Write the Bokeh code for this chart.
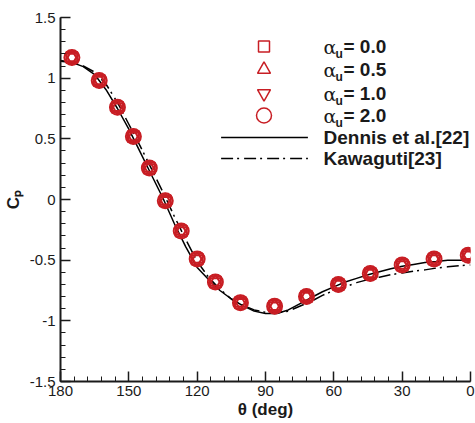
import math
from bokeh.plotting import figure
from bokeh.models import Range1d, Label, SingleIntervalTicker
from bokeh.embed import file_html
from bokeh.resources import INLINE

# ---------------- data ----------------
theta_pts = [175, 163, 155, 148, 141, 134, 127, 120, 112, 101, 86, 72, 58, 44, 30, 16, 1]
cp_a00 = [1.17, 0.98, 0.76, 0.52, 0.26, -0.01, -0.26, -0.49, -0.68, -0.85, -0.88, -0.80, -0.70, -0.61, -0.54, -0.49, -0.46]
cp_a05 = [1.17, 0.98, 0.76, 0.52, 0.26, -0.01, -0.26, -0.49, -0.68, -0.85, -0.88, -0.80, -0.70, -0.61, -0.54, -0.49, -0.46]
cp_a10 = [1.17, 0.98, 0.76, 0.52, 0.26, -0.01, -0.26, -0.49, -0.68, -0.85, -0.88, -0.80, -0.70, -0.61, -0.54, -0.49, -0.46]
cp_a20 = [1.17, 0.98, 0.76, 0.52, 0.26, -0.01, -0.26, -0.49, -0.68, -0.85, -0.88, -0.80, -0.70, -0.61, -0.54, -0.49, -0.46]

theta_line = [180, 175, 170, 165, 160, 155, 150, 145, 140, 135, 130, 125, 120, 115, 110, 105,
              100, 95, 90, 85, 80, 75, 70, 65, 60, 55, 50, 45, 40, 35, 30, 25, 20, 15, 10, 5, 0]
cp_dennis = [1.145, 1.13, 1.095, 1.03, 0.905, 0.75, 0.58, 0.39, 0.20, 0.01, -0.20, -0.39, -0.56, -0.66,
             -0.75, -0.82, -0.875, -0.92, -0.94, -0.94, -0.91, -0.86, -0.81, -0.76, -0.72, -0.68,
             -0.65, -0.62, -0.595, -0.57, -0.55, -0.535, -0.52, -0.51, -0.50, -0.50, -0.50]
cp_kawaguti = [1.14, 1.13, 1.10, 1.05, 0.95, 0.80, 0.62, 0.44, 0.25, 0.06, -0.14, -0.33, -0.51, -0.64,
               -0.74, -0.82, -0.87, -0.91, -0.93, -0.935, -0.92, -0.88, -0.84, -0.79, -0.75, -0.72,
               -0.685, -0.66, -0.64, -0.62, -0.605, -0.59, -0.58, -0.565, -0.555, -0.545, -0.54]

legend_alpha = ["0.0", "0.5", "1.0", "2.0"]
legend_lines = ["Dennis et al.[22]", "Kawaguti[23]"]
x_ticks = [180, 150, 120, 90, 60, 30, 0]
y_ticks = [-1.5, -1, -0.5, 0, 0.5, 1, 1.5]
x_title = "θ (deg)"
y_title = "Cₚ"

# ---------------- layout ----------------
W, H = 475, 423
L, R, T, B = 59, 5, 17, 42
FW, FH = W - L - R, H - T - B
RED = "#c81e24"
INK = "#1a1a1a"
SANS = "Liberation Sans"
SERIF = "DejaVu Serif"
DASHDOT = "12 4 2 5"

p = figure(width=W, height=H, output_backend="svg", toolbar_location=None,
           x_range=Range1d(180, 0), y_range=Range1d(-1.5, 1.5),
           min_border_left=L, min_border_right=R, min_border_top=T, min_border_bottom=B)
p.outline_line_color = None
p.xgrid.visible = False
p.ygrid.visible = False
p.background_fill_color = "white"
p.border_fill_color = "white"

for ax in (p.xaxis[0], p.yaxis[0]):
    ax.axis_line_width = 2
    ax.axis_line_color = INK
    ax.major_tick_in = 10
    ax.major_tick_out = 0
    ax.minor_tick_in = 5
    ax.minor_tick_out = 0
    ax.major_tick_line_color = INK
    ax.minor_tick_line_color = INK
    ax.major_tick_line_width = 1.5
    ax.minor_tick_line_width = 1
    ax.major_label_text_font = SANS
    ax.major_label_text_font_size = "15px"
    ax.major_label_text_color = INK
    ax.major_label_standoff = 5
    ax.axis_label_text_font = SANS
    ax.axis_label_text_font_size = "17px"
    ax.axis_label_text_font_style = "bold"
    ax.axis_label_text_color = INK

p.xaxis.axis_label = x_title
p.xaxis.axis_label_standoff = 1
p.xaxis.major_label_standoff = 4
p.yaxis.axis_label = y_title
p.yaxis.axis_label_standoff = 4

p.xaxis.ticker = SingleIntervalTicker(interval=30, num_minor_ticks=5)
p.yaxis.ticker = SingleIntervalTicker(interval=0.5, num_minor_ticks=5)
p.xaxis.major_label_overrides = {t: str(t) for t in x_ticks}
p.yaxis.major_label_overrides = {t: ("%g" % t) for t in y_ticks}

# curves
p.line(theta_line, cp_dennis, line_color="black", line_width=1.5)
p.line(theta_line, cp_kawaguti, line_color="black", line_width=1.5, line_dash=DASHDOT)

# markers (four series overlaid)
mk = dict(fill_color=None, line_color=RED, line_width=2)
p.scatter(theta_pts, cp_a00, marker="square", size=11, **mk)
p.scatter(theta_pts, cp_a05, marker="triangle", size=13, **mk)
p.scatter(theta_pts, cp_a10, marker="inverted_triangle", size=13, **mk)
p.scatter(theta_pts, cp_a20, marker="circle", size=15, **mk)

# helpers: canvas pixel -> data / frame-relative screen
def dx(px):
    return 180 - (px - L) * 180.0 / FW

def dy(py):
    return 1.5 - (py - T) * 3.0 / FH

def sx(px):
    return px - L

def sy(py):
    return (T + FH) - py

def lab(px, py, text, font=SANS, size="19px", style="bold", **kw):
    p.add_layout(Label(x=sx(px), y=sy(py), x_units="screen", y_units="screen", text=text,
                       text_font=font, text_font_size=size, text_font_style=style,
                       text_color=INK, **kw))

# legend
rows = [46, 69, 93, 115]
markers = ["square", "triangle", "inverted_triangle", "circle"]
sizes = [11, 13, 13, 15]
for ry, m, s, a in zip(rows, markers, sizes, legend_alpha):
    p.scatter([dx(263)], [dy(ry)], marker=m, size=s, fill_color=None, line_color=RED, line_width=1.5)
    lab(322, ry, "α", font=SERIF, size="19px", style="normal", text_baseline="middle", text_align="left")
    lab(334, ry + 7, "u", size="12px", text_baseline="middle", text_align="left")
    lab(342, ry, "= " + a, text_baseline="middle", text_align="left")

line_rows = [137, 158]
p.line([dx(220), dx(307)], [dy(137), dy(137)], line_color="black", line_width=1.5)
p.line([dx(220), dx(307)], [dy(158), dy(158)], line_color="black", line_width=1.5, line_dash=DASHDOT)
for ry, t in zip(line_rows, legend_lines):
    lab(322, ry, t, text_baseline="middle", text_align="left")

open("out.html", "w").write(file_html(p, INLINE))
